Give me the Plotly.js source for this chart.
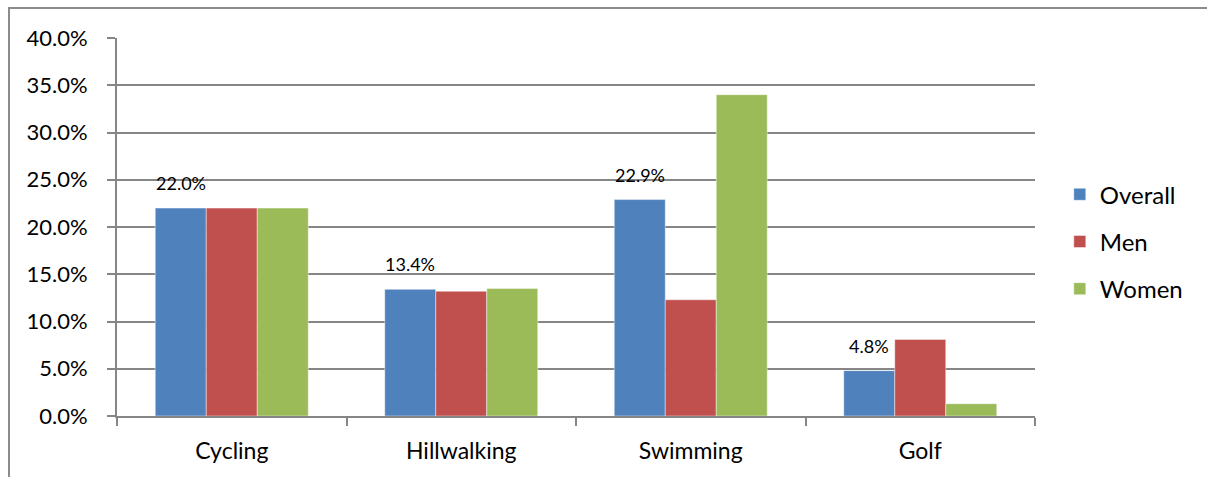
<!DOCTYPE html>
<html>
<head>
<meta charset="utf-8">
<script src="https://cdn.plot.ly/plotly-3.0.1.min.js"></script>
<style>
  html, body { margin: 0; padding: 0; background: #ffffff; }
  #wrap { position: relative; width: 1207px; height: 477px; overflow: hidden; }
  #chart { position: absolute; left: 0; top: 0; width: 1207px; height: 477px; }
  #frame { position: absolute; left: 8px; top: 7px; width: 1300px; height: 600px;
           border-left: 2px solid #8c8c8c; border-top: 2px solid #8c8c8c; pointer-events: none; }
</style>
</head>
<body>
<div id="wrap">
  <div id="chart"></div>
  <div id="frame"></div>
</div>
<script>
// Share of people taking part in each activity
const categories = ["Cycling", "Hillwalking", "Swimming", "Golf"];
const overall = [22.0, 13.4, 22.9, 4.8];
const men     = [22.0, 13.2, 12.3, 8.1];
const women   = [22.0, 13.5, 34.0, 1.3];
const yTicks  = [0, 5, 10, 15, 20, 25, 30, 35, 40];

const FONT = "Lato, 'Liberation Sans', sans-serif";
const GRID = "#868686";

const W = 1207, H = 477;
const margin = { l: 117, r: 172, t: 38, b: 61, pad: 0 };
const bargap = 1 / 3;
const plotW = W - margin.l - margin.r;
const barPx = plotW / categories.length * (1 - bargap) / 3;

function barTrace(name, values, color, group) {
  return {
    type: "bar",
    name: name,
    x: categories,
    y: values,
    legendgroup: group,
    marker: { color: color, line: { color: "rgba(255,255,255,0.55)", width: 0.8 } },
    hoverinfo: "skip"
  };
}

const data = [
  barTrace("Overall", overall, "#4F81BD", "g1"),
  barTrace("Men", men, "#C0504D", "g2"),
  barTrace("Women", women, "#9BBB59", "g3")
];

// value labels above the "Overall" bars
const annotations = categories.map((c, i) => ({
  x: c, y: overall[i], xref: "x", yref: "y",
  text: overall[i].toFixed(1) + "%",
  showarrow: false,
  xshift: -barPx, yshift: 25,
  xanchor: "center", yanchor: "middle",
  font: { family: FONT, size: 18, color: "#000000" }
}));

const layout = {
  width: W, height: H,
  margin: margin,
  paper_bgcolor: "#ffffff",
  plot_bgcolor: "#ffffff",
  barmode: "group",
  bargap: bargap,
  bargroupgap: 0,
  font: { family: FONT, color: "#000000" },
  showlegend: true,
  legend: {
    x: 1.027, xanchor: "left",
    y: 0.645, yanchor: "top",
    traceorder: "grouped",
    tracegroupgap: 13,
    font: { family: FONT, size: 24, color: "#000000" },
    bgcolor: "rgba(0,0,0,0)"
  },
  xaxis: {
    type: "category",
    tickson: "boundaries",
    ticks: "outside",
    ticklen: 8,
    tickwidth: 2,
    tickcolor: GRID,
    showline: true,
    linecolor: GRID,
    linewidth: 2,
    showgrid: false,
    zeroline: false,
    ticklabelstandoff: 13,
    tickfont: { family: FONT, size: 23, color: "#000000" },
    fixedrange: true
  },
  yaxis: {
    range: [0, 40],
    tickvals: yTicks,
    ticktext: yTicks.map(v => v.toFixed(1) + "%"),
    ticks: "outside",
    ticklen: 8,
    tickwidth: 2,
    tickcolor: GRID,
    showline: true,
    linecolor: GRID,
    linewidth: 2,
    showgrid: true,
    gridcolor: GRID,
    gridwidth: 2,
    zeroline: false,
    ticklabelstandoff: 15,
    tickfont: { family: FONT, size: 22, color: "#000000" },
    fixedrange: true
  },
  annotations: annotations
};

Plotly.newPlot("chart", data, layout, { displayModeBar: false, staticPlot: true });
</script>
</body>
</html>
